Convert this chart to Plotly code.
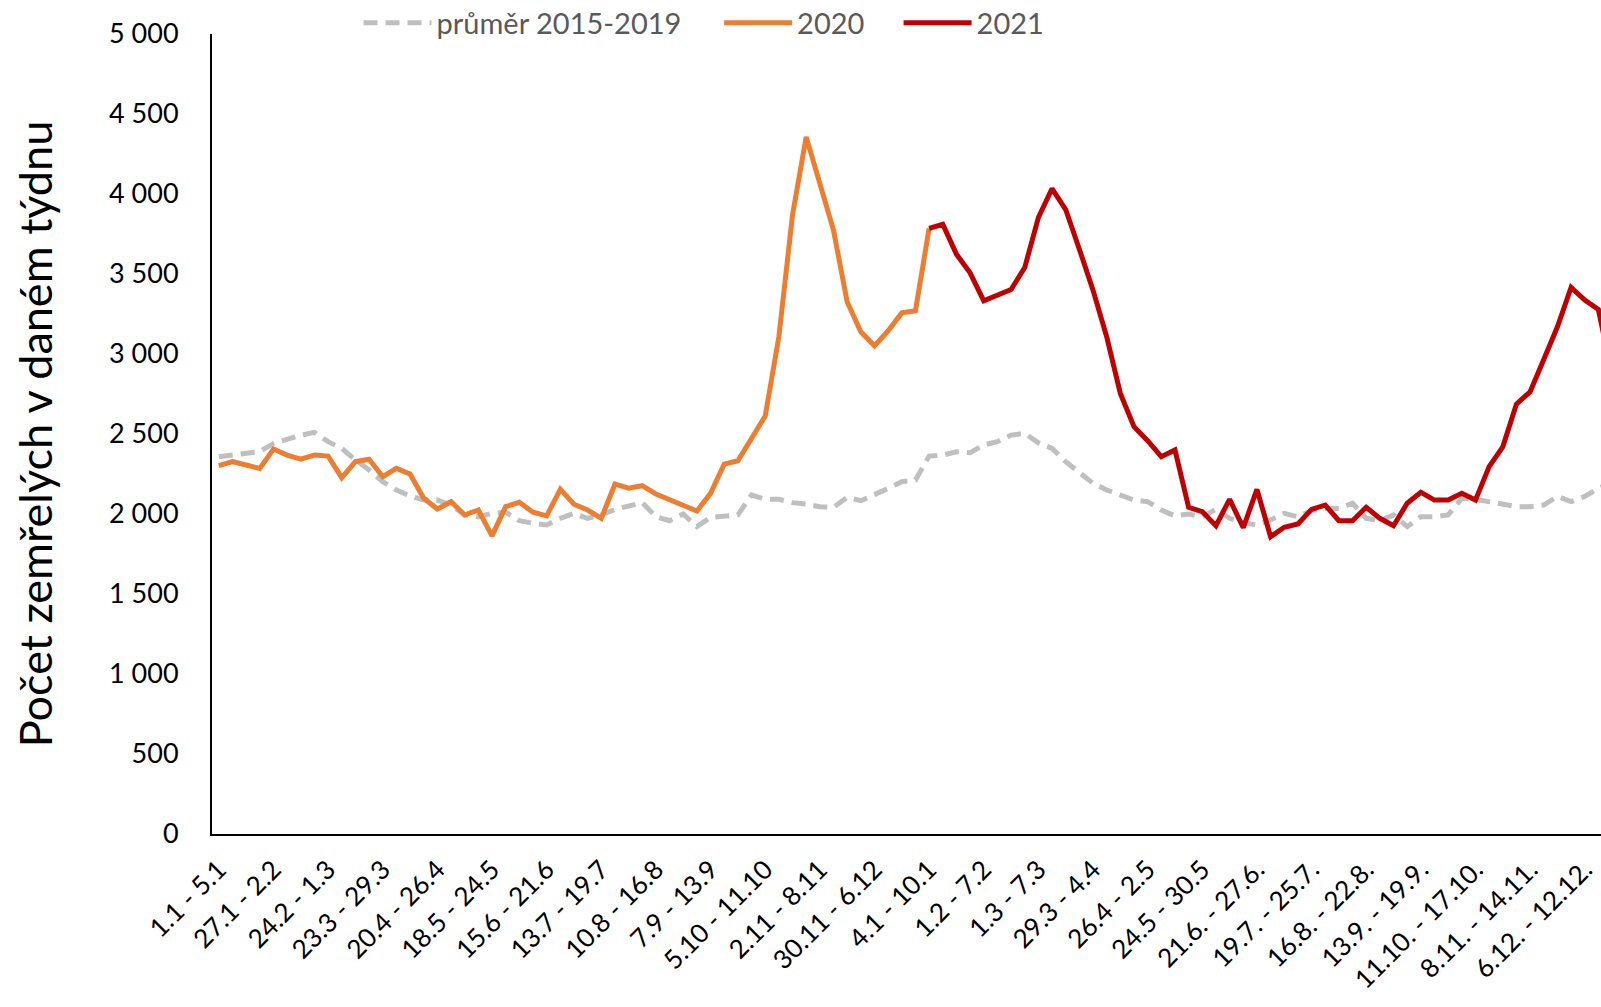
import plotly.graph_objects as go

# ---- data ----
tick_labels = ["1.1 - 5.1", "27.1 - 2.2", "24.2 - 1.3", "23.3 - 29.3", "20.4 - 26.4",
               "18.5 - 24.5", "15.6 - 21.6", "13.7 - 19.7", "10.8 - 16.8", "7.9 - 13.9",
               "5.10 - 11.10", "2.11 - 8.11", "30.11 - 6.12", "4.1 - 10.1", "1.2 - 7.2",
               "1.3 - 7.3", "29.3 - 4.4", "26.4 - 2.5", "24.5 - 30.5", "21.6. - 27.6.",
               "19.7. - 25.7.", "16.8. - 22.8.", "13.9. - 19.9.", "11.10. - 17.10.",
               "8.11. - 14.11.", "6.12. - 12.12."]

avg_2020_part = [2358, 2367, 2383, 2390, 2441, 2468, 2493, 2510, 2452, 2410,
                 2337, 2275, 2202, 2150, 2112, 2087, 2087, 2056, 1994, 1983,
                 2004, 2011, 1958, 1942, 1931, 1973, 2004, 1973, 1994, 2029,
                 2050, 2071, 1983, 1958, 2000, 1921, 1979, 1983, 1994, 2119,
                 2092, 2092, 2071, 2062, 2046, 2042, 2104, 2083, 2119, 2160,
                 2202, 2212]
avg_2021_part = [2362, 2368, 2389, 2383, 2431, 2452, 2493, 2504, 2445, 2410,
                 2327, 2264, 2192, 2150, 2119, 2087, 2077, 2025, 1988, 2000,
                 1983, 2029, 1973, 1946, 1931, 1963, 2004, 1983, 2021, 2035,
                 2035, 2067, 1973, 1958, 1994, 1921, 1983, 1983, 1994, 2098,
                 2092, 2077, 2062, 2046, 2046, 2056, 2110, 2077, 2110, 2160,
                 2200]
deaths_2020 = [2302, 2327, 2306, 2285, 2406, 2368, 2343, 2368, 2362, 2227,
               2327, 2342, 2233, 2285, 2250, 2098, 2031, 2077, 1994, 2025,
               1863, 2046, 2073, 2011, 1988, 2154, 2061, 2025, 1973, 2187,
               2161, 2177, 2125, 2092, 2052, 2019, 2129, 2312, 2333, 2477,
               2612, 3107, 3868, 4357, 4065, 3774, 3326, 3139, 3051, 3145,
               3257, 3270, 3785]
deaths_2021 = [3785, 3811, 3624, 3507, 3332, 3368, 3403, 3540, 3853, 4034,
               3903, 3655, 3399, 3108, 2754, 2546, 2458, 2358, 2400, 2042,
               2015, 1927, 2092, 1914, 2154, 1858, 1917, 1938, 2029, 2056,
               1958, 1958, 2042, 1973, 1927, 2067, 2136, 2087, 2087, 2129,
               2087, 2296, 2420, 2687, 2764, 2966, 3170, 3416, 3337, 3278,
               2870]

avg_values = avg_2020_part + avg_2021_part
x_avg = list(range(len(avg_values)))
x_2020 = list(range(len(deaths_2020)))
start_2021 = len(deaths_2020) - 1
x_2021 = list(range(start_2021, start_2021 + len(deaths_2021)))
tick_positions = list(range(0, 4 * len(tick_labels), 4))

FONT = "Lato, 'Open Sans', sans-serif"

fig = go.Figure()
fig.add_trace(go.Scatter(x=x_avg, y=avg_values, mode="lines", name="průměr 2015-2019",
                         line=dict(color="#BFBFBF", width=5, dash="14px,8px"), legend="legend"))
fig.add_trace(go.Scatter(x=x_2020, y=deaths_2020, mode="lines", name="2020",
                         line=dict(color="#ED7D31", width=5), legend="legend2"))
fig.add_trace(go.Scatter(x=x_2021, y=deaths_2021, mode="lines", name="2021",
                         line=dict(color="#C00000", width=5), legend="legend3"))

leg_common = dict(orientation="h", xanchor="left", y=1.014, yanchor="middle",
                  font=dict(size=29, color="#595959", family=FONT),
                  bgcolor="rgba(0,0,0,0)", itemwidth=68)

fig.update_layout(
    width=1601, height=1007,
    margin=dict(l=212, r=0, t=34, b=173, autoexpand=False),
    paper_bgcolor="white", plot_bgcolor="white",
    separators=", ",
    font=dict(family=FONT, color="black", size=26),
    showlegend=True,
    legend=dict(x=0.1055, **leg_common),
    legend2=dict(x=0.3651, **leg_common),
    legend3=dict(x=0.4943, **leg_common),
)
fig.update_xaxes(range=[-0.5, 101.19], tickmode="array", tickvals=tick_positions,
                 ticktext=tick_labels, tickangle=-45, showgrid=False, zeroline=False,
                 showline=True, linecolor="black", linewidth=2, ticks="",
                 ticklabelstandoff=8, tickfont=dict(size=26, family=FONT, color="black"))
fig.update_yaxes(range=[0, 5000], tickmode="linear", tick0=0, dtick=500, tickformat=",d",
                 showgrid=False, zeroline=False, showline=True, linecolor="black", linewidth=2,
                 ticks="", ticklabelstandoff=26, tickfont=dict(size=27, family=FONT, color="black"),
                 title=dict(text="Počet zemřelých v daném týdnu", standoff=42,
                            font=dict(size=45, family=FONT, color="black")))

fig.write_html("out.html", config={"displayModeBar": False},
               post_script="document.body.style.margin='0';document.body.style.overflow='hidden';")
